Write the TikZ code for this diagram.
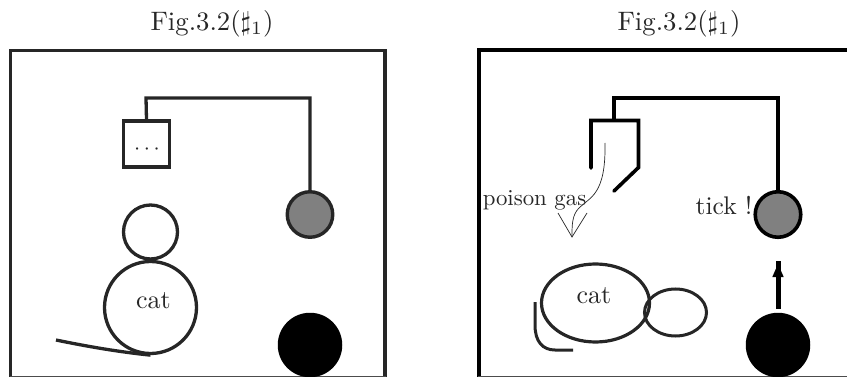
\documentclass[tikz,border=0pt]{standalone}
\usetikzlibrary{shapes.geometric}
\newcommand{\scaledtxt}[2]{\scalebox{#1}{#2}}
\begin{document}
\begin{tikzpicture}[x=1pt,y=-1pt,
  ink/.style={draw=black!85,line width=#1},
  ink/.default=3.3pt,
  lbl/.style={inner sep=0pt,text=black!85}]
\useasboundingbox (0,0) rectangle (847,377);
% left panel
\node[lbl] (tl) at (212,24) {\scaledtxt{2.67}{Fig.3.2($\sharp_1$)}};
\draw[ink=3.6pt] (10.5,377) -- (10.5,50.5) -- (385,50.5) -- (385,377);
\draw[black!70,line width=.8pt] (10,376.3) -- (386,376.3);
\node[ink,minimum size=46pt,inner sep=0pt] (boxl) at (146.5,144) {};
\node[lbl] (dots) at (147,150) {\scaledtxt{2.2}{$\cdots$}};
\node[draw=black!85,line width=3.4pt,circle,fill=black!50,minimum size=45.5pt,inner sep=0pt] (grayl) at (310,214.5) {};
\node[circle,fill=black,minimum size=64.5pt,inner sep=0pt] (blackl) at (310,345) {};
\coordinate (tla) at (146,98); \coordinate (tlb) at (310,98);
\draw[ink] (boxl.north) -- (tla) -- (tlb) -- (grayl.north);
\node[ink,circle,minimum size=54pt,inner sep=0pt] (headl) at (150.5,232) {};
\node[ink,circle,minimum size=92pt,inner sep=0pt] (bodyl) at (150.5,307.5) {};
\node[lbl] (catl) at (153.5,301) {\scaledtxt{2.6}{cat}};
\coordinate (taill) at (56,340);
\draw[ink] (taill) .. controls (90,347) and (120,352) .. (bodyl.south);
% right panel
\node[lbl] (tr) at (679,24) {\scaledtxt{2.67}{Fig.3.2($\sharp_1$)}};
\draw[draw=black,line width=3.8pt] (479,377) -- (479,50) -- (847,50);
\draw[black!70,line width=.8pt] (478,376.3) -- (847,376.3);
\coordinate (ha) at (591,168); \coordinate (hb) at (591,120.5); \coordinate (hc) at (638.5,120.5); \coordinate (hd) at (638.5,167.5); \coordinate (he) at (614,191);
\draw[draw=black,line width=3.6pt,line join=miter,line cap=round] (ha) -- (hb) -- (hc) -- (hd) -- (he);
\node[draw=black,line width=3.6pt,circle,fill=black!50,minimum size=45.5pt,inner sep=0pt] (grayr) at (778,214.5) {};
\node[circle,fill=black,minimum size=64.5pt,inner sep=0pt] (blackr) at (778,345) {};
\coordinate (tra) at (614,98); \coordinate (trb) at (778,98); \coordinate (hn) at (614,120);
\draw[draw=black,line width=3.5pt] (hn) -- (tra) -- (trb) -- (grayr.north);
\node[lbl] (tick) at (724,206) {\scaledtxt{2.55}{tick !}};
\node[lbl] (gas) at (534.5,200) {\scaledtxt{2.28}{poison gas}};
\coordinate (ga) at (605,143); \coordinate (gb) at (572,237); \coordinate (gl) at (558,213); \coordinate (gr) at (587,213);
\draw[black!85,line width=.7pt] (ga) .. controls (606,195) and (590,197) .. (579,208) .. controls (572,215) and (572,225) .. (gb);
\draw[black!85,line width=.7pt] (gl) -- (gb) -- (gr);
\node[ink=3.2pt,ellipse,minimum width=108pt,minimum height=78pt,inner sep=0pt] (bodyr) at (595.5,303) {};
\node[ink=3pt,ellipse,minimum width=62pt,minimum height=47pt,inner sep=0pt] (headr) at (675.5,312.5) {};
\node[lbl] (catr) at (594,296) {\scaledtxt{2.6}{cat}};
\coordinate (ta) at (535,302); \coordinate (tb) at (573,350);
\draw[ink=3pt] (ta) -- (535,325) .. controls (535,342) and (543,350) .. (555,350) -- (tb);
\coordinate (aa) at (778,308.5); \coordinate (ab) at (778,261);
\draw[draw=black,line width=5pt] (aa) -- (ab);
\fill[black] (778,264) -- (783.7,277) -- (772.3,277) -- cycle;
\end{tikzpicture}
\end{document}
